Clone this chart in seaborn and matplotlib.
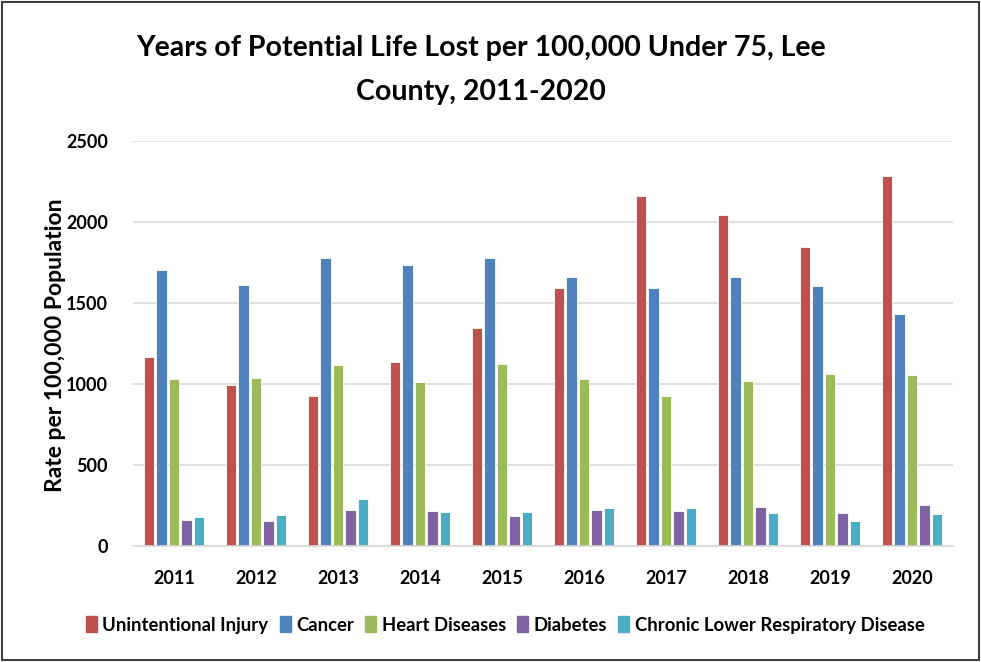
import pandas as pd
import numpy as np
import seaborn as sns
import matplotlib.pyplot as plt
from matplotlib.patches import Rectangle

years = ["2011", "2012", "2013", "2014", "2015", "2016", "2017", "2018", "2019", "2020"]
causes = ["Unintentional Injury", "Cancer", "Heart Diseases", "Diabetes",
          "Chronic Lower Respiratory Disease"]
injury = [1168, 991, 923, 1135, 1347, 1593, 2161, 2046, 1846, 2282]
cancer = [1706, 1610, 1780, 1737, 1778, 1661, 1591, 1661, 1608, 1435]
heart = [1032, 1038, 1118, 1014, 1125, 1032, 927, 1016, 1061, 1055]
diabetes = [163, 154, 220, 216, 183, 220, 214, 243, 206, 255]
clrd = [181, 193, 292, 210, 210, 237, 232, 206, 157, 200]
colors = ["#C0504D", "#4F81BD", "#9BBB59", "#8064A2", "#4BACC6"]

rows = []
for cause, vals in zip(causes, [injury, cancer, heart, diabetes, clrd]):
    for yr, v in zip(years, vals):
        rows.append({"Year": yr, "Cause": cause, "Rate": v})
df = pd.DataFrame(rows)

sns.set_style("white")
plt.rcParams['font.family'] = ['Lato', 'DejaVu Sans']
plt.rcParams['text.color'] = 'black'
plt.rcParams['xtick.color'] = 'black'
plt.rcParams['ytick.color'] = 'black'
plt.rcParams['axes.labelcolor'] = 'black'

fig = plt.figure(figsize=(9.81, 6.62), dpi=100)
ax = fig.add_axes([133 / 981, 1 - 546 / 662, 820 / 981, 405 / 662])
sns.barplot(data=df, x="Year", y="Rate", hue="Cause", palette=colors,
            width=0.76, gap=0.15, saturation=1, ax=ax, edgecolor="white",
            linewidth=0.6)

ax.set_ylim(0, 2500)
ax.set_yticks(np.arange(0, 2501, 500))
ax.yaxis.grid(True, color="#D9D9D9", linewidth=1.2)
ax.set_axisbelow(True)
for s in ["top", "right", "left"]:
    ax.spines[s].set_visible(False)
ax.spines["bottom"].set_color("#D9D9D9")
ax.spines["bottom"].set_linewidth(1.2)
ax.tick_params(axis="y", length=0, labelsize=13, pad=18)
ax.tick_params(axis="x", length=0, labelsize=13, pad=17)
for lab in ax.get_xticklabels() + ax.get_yticklabels():
    lab.set_fontweight("bold")
ax.set_xlabel("")
ax.set_ylabel("")
fig.text(55 / 981, 1 - 345 / 662, "Rate per 100,000 Population", rotation=90,
         ha="center", va="center", fontsize=16.5, fontweight="bold")

fig.text(0.49, 1 - 48 / 662, "Years of Potential Life Lost per 100,000 Under 75, Lee",
         ha="center", va="center", fontsize=20.5, fontweight="bold")
fig.text(0.49, 1 - 92 / 662, "County, 2011-2020", ha="center", va="center",
         fontsize=20.5, fontweight="bold")

ax.legend_.remove()
handles = [Rectangle((0, 0), 1, 1, color=c) for c in colors]
fig.legend(handles, causes, loc="center", bbox_to_anchor=(0.515, 1 - 625 / 662), ncol=5,
           frameon=False, prop={"weight": "bold", "size": 13.3},
           handlelength=0.6, handleheight=0.9, handletextpad=0.3, columnspacing=0.6)

fig.patches.append(Rectangle((0.002, 0.003), 0.996, 0.994, transform=fig.transFigure,
                             fill=False, edgecolor="#404040", linewidth=1.5))

fig.savefig("out.png", dpi=100)
